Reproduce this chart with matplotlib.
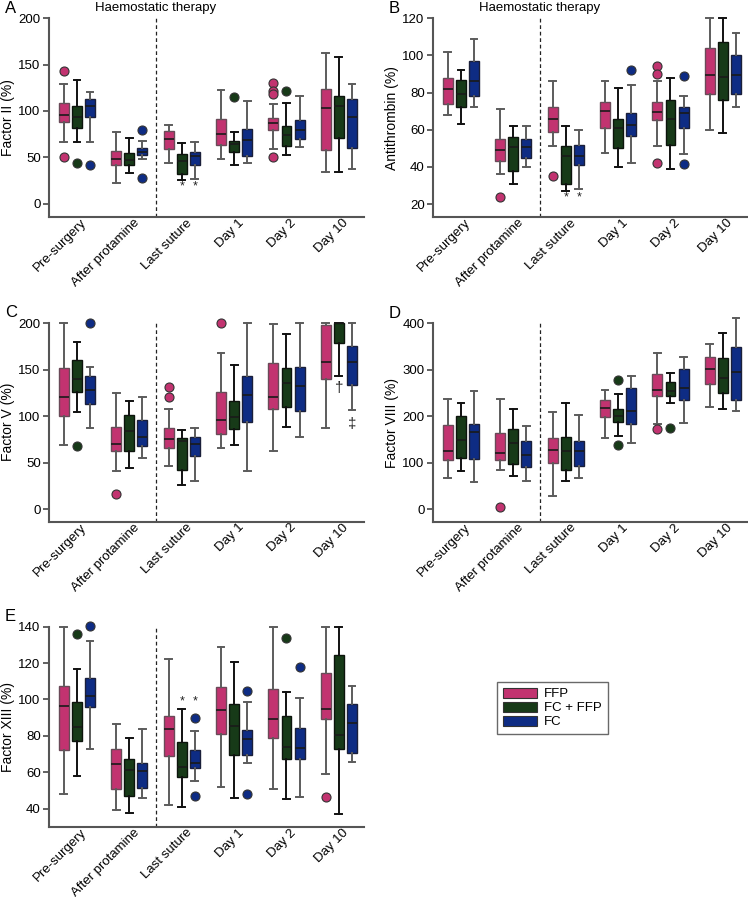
import matplotlib
matplotlib.use('Agg')
import matplotlib.pyplot as plt
from matplotlib.patches import Patch
from matplotlib.transforms import ScaledTranslation

plt.rcParams['font.family'] = ['Liberation Sans', 'DejaVu Sans']

timepoints = ['Pre-surgery', 'After protamine', 'Last suture', 'Day 1', 'Day 2', 'Day 10']
groups = ['FFP', 'FC + FFP', 'FC']
colors = ['#C23370', '#173A18', '#0E2C84']

# each row: [low whisker, Q1, median, Q3, high whisker] per timepoint
# ---- A: Factor II (%)
A_FFP = [[66, 88, 96, 109, 129], [22, 42, 48, 57, 77], [44, 59, 70, 78, 85],
         [48, 63, 75, 91, 123], [59, 79, 87, 92, 107], [34, 58, 103, 124, 163]]
A_FFP_out = [[143, 50], [], [], [], [130, 122, 118, 50], []]
A_FCFFP = [[66, 82, 94, 105, 133], [33, 42, 47, 55, 71], [26, 32, 46, 54, 65],
           [42, 56, 64, 68, 77], [53, 62, 74, 84, 109], [34, 71, 105, 116, 158]]
A_FCFFP_out = [[44], [], [], [115], [122], []]
A_FC = [[67, 93, 105, 113, 120], [48, 52, 56, 60, 68], [27, 42, 51, 56, 67],
        [44, 51, 69, 81, 111], [61, 70, 79, 90, 116], [37, 60, 93, 113, 129]]
A_FC_out = [[42], [79, 28], [], [], [], []]

# ---- B: Antithrombin (%)
B_FFP = [[68, 74, 82, 88, 102], [36, 43, 49, 55, 71], [51, 59, 66, 72, 86],
         [47.5, 61, 70, 75, 86], [51, 65, 69.6, 75, 86], [60, 79, 89.5, 104, 120]]
B_FFP_out = [[], [24], [35], [], [94.5, 90, 42], []]
B_FCFFP = [[63, 72, 79, 87, 92], [31, 38, 50.5, 56, 62], [27, 31, 46, 51, 62],
           [40, 50, 61, 66, 82.5], [39, 52, 66, 76, 88], [58, 76, 88.5, 107, 120]]
B_FCFFP_out = [[], [], [], [], [], []]
B_FC = [[72, 78, 86, 97, 109], [40, 45, 50.5, 55, 62], [28, 41, 46, 52, 60],
        [42, 56.5, 62.5, 69, 84], [47, 61, 69, 72, 78], [72, 79, 89.5, 100.5, 112]]
B_FC_out = [[], [], [], [92], [89, 41.5], []]

# ---- C: Factor V (%)
C_FFP = [[69, 100, 120, 152, 200], [41, 62, 70, 88, 125], [46, 66, 75, 87, 108],
         [66, 81, 96, 126, 168], [62, 108, 120, 157, 199], [87, 140, 158, 198, 200]]
C_FFP_out = [[], [16], [131, 120], [200], [], []]
C_FCFFP = [[104, 126, 140, 160, 180], [44, 62, 84, 101, 116], [26, 42, 73, 76, 85],
           [69, 86, 99, 116, 155], [88, 110, 136, 152, 188], [143, 178, 200, 200, 200]]
C_FCFFP_out = [[68], [], [], [], [], []]
C_FC = [[87, 113, 128, 143, 153], [55, 68, 78, 96, 120], [30, 57, 70, 78, 87],
        [41, 94, 123, 143, 200], [77, 105, 132, 153, 200], [107, 133, 158, 175, 200]]
C_FC_out = [[200], [], [], [], [], []]

# ---- D: Factor VIII (%)
D_FFP = [[68, 105, 125, 181, 238], [85, 106, 121, 163, 238], [29, 99, 128, 153, 209],
         [153, 198, 217, 234, 257], [184, 244, 257, 291, 336], [220, 270, 302, 328, 356]]
D_FFP_out = [[], [4], [], [], [173], []]
D_FCFFP = [[82, 110, 148, 201, 229], [71, 97, 142, 173, 216], [61, 84, 125, 156, 229],
           [158, 188, 201, 216, 247], [228, 243, 254, 274, 294], [216, 250, 283, 326, 380]]
D_FCFFP_out = [[], [], [], [277, 139], [174], []]
D_FC = [[59, 108, 167, 183, 254], [60, 91, 117, 146, 180], [67, 93, 125, 146, 203],
        [142, 184, 211, 260, 287], [186, 234, 261, 301, 328], [211, 234, 295, 348, 411]]
D_FC_out = [[], [], [], [], [], []]

# ---- E: Factor XIII (%)
E_FFP = [[48, 72, 96.5, 107.5, 140], [39, 51, 64.5, 73, 86.5], [42, 69, 84, 91, 122.5],
         [52, 81, 94, 107, 129], [51, 79, 89, 106, 140], [59, 89, 94.5, 114.5, 140]]
E_FFP_out = [[], [], [], [], [], [46.5]]
E_FCFFP = [[58, 77, 85, 98.5, 117], [37.5, 47, 61, 67, 79], [41, 57.5, 63, 76.5, 94.5],
           [46, 69.5, 85.5, 97.5, 120.5], [45.5, 67, 74, 91, 104], [37, 72.5, 80.5, 124.5, 140]]
E_FCFFP_out = [[136], [], [], [], [134], []]
E_FC = [[73, 96, 102, 112, 132], [46, 51.5, 60.5, 65, 83.5], [55, 62.5, 65, 72, 82.5],
        [65, 69.5, 78, 83, 98.5], [46.5, 67.5, 73.5, 84.5, 101], [65.5, 70.5, 87, 97.5, 107.5]]
E_FC_out = [[140.5], [], [90, 47], [104.5, 48], [118], []]

# significance marks: (timepoint index, group index, y value, symbol)
A_marks = [(2, 1, 19, '*'), (2, 2, 19, '*')]
B_marks = [(2, 1, 23.5, '*'), (2, 2, 23.5, '*')]
C_marks = [(5, 1, 130, '\u2020'), (5, 2, 92, '\u2021')]
D_marks = []
E_marks = [(2, 1, 99, '*'), (2, 2, 99, '*')]

W, H = 748, 902
fig = plt.figure(figsize=(W / 100, H / 100), dpi=100)

offsets = [-0.25, 0.0, 0.25]
whisk_cols = ['#5c5c5c', '#111111', '#5c5c5c']
edge_cols = ['#6a4a58', '#0c140c', '#1a1f3a']
spine_col = '#555555'


def ax_rect(x0, ytop, ybot, width=315):
    return [x0 / W, 1 - ybot / H, width / W, (ybot - ytop) / H]


def draw(rect, data, outs, ylim, yticks, ylabel, letter, marks, title):
    ax = fig.add_axes(rect)
    for g in range(3):
        stats = []
        for t in range(6):
            lo, q1, med, q3, hi = data[g][t]
            stats.append(dict(whislo=lo, q1=q1, med=med, q3=q3, whishi=hi,
                              fliers=outs[g][t]))
        pos = [t + offsets[g] for t in range(6)]
        arts = ax.bxp(stats, positions=pos, widths=0.19, capwidths=0.13,
                      patch_artist=True, manage_ticks=False,
                      boxprops=dict(facecolor=colors[g], edgecolor=edge_cols[g], linewidth=1.0),
                      medianprops=dict(color='#1a1a1a', linewidth=1.2),
                      whiskerprops=dict(color=whisk_cols[g], linewidth=1.4),
                      capprops=dict(color=whisk_cols[g], linewidth=1.4),
                      flierprops=dict(marker='o', markerfacecolor=colors[g],
                                      markeredgecolor='#333333', markersize=6.5,
                                      markeredgewidth=0.8))
        for k, lst in arts.items():
            for a in lst:
                a.set_clip_on(False)
    for (t, g, y, s) in marks:
        ax.text(t + offsets[g], y, s, ha='center', va='center', fontsize=9 if s == '*' else 11,
                color='#222222')
    ax.set_xlim(-0.534, 5.48)
    ax.set_ylim(*ylim)
    ax.set_yticks(yticks)
    ax.set_xticks(range(6))
    ax.tick_params(axis='x', length=0, pad=3)
    ax.tick_params(axis='y', direction='out', length=4, width=1.3, color=spine_col,
                   labelsize=9.5, pad=2)
    ax.set_xticklabels(timepoints, rotation=45, ha='right', va='center',
                       rotation_mode='anchor', fontsize=9.5)
    shift = ScaledTranslation(8 / 100, 0, fig.dpi_scale_trans)
    for lab in ax.get_xticklabels():
        lab.set_transform(lab.get_transform() + shift)
    for s in ['top', 'right']:
        ax.spines[s].set_visible(False)
    for s in ['left', 'bottom']:
        ax.spines[s].set_color(spine_col)
        ax.spines[s].set_linewidth(1.5)
    ax.axvline(1.5, color='#222222', linestyle=(0, (3, 2.2)), linewidth=0.9)
    ax.set_ylabel(ylabel, fontsize=10)
    ax.yaxis.set_label_coords(-0.108, 0.5)
    fig.text((rect[0] * W - 44) / W, rect[1] + rect[3] + 10 / H, letter, fontsize=12,
             ha='left', va='center')
    if title:
        xd = ax.transData.transform((1.5, 0))[0]
        fig.text(xd / W, rect[1] + rect[3] + 10 / H, title, fontsize=9.5, ha='center', va='center')
    return ax


draw(ax_rect(49, 18.3, 217), [A_FFP, A_FCFFP, A_FC], [A_FFP_out, A_FCFFP_out, A_FC_out],
     (-14.4, 200), [0, 50, 100, 150, 200], 'Factor II (%)', 'A', A_marks, 'Haemostatic therapy')
draw(ax_rect(433, 18.3, 217), [B_FFP, B_FCFFP, B_FC], [B_FFP_out, B_FCFFP_out, B_FC_out],
     (13, 120), [20, 40, 60, 80, 100, 120], 'Antithrombin (%)', 'B', B_marks, 'Haemostatic therapy')
draw(ax_rect(49, 323, 521.5), [C_FFP, C_FCFFP, C_FC], [C_FFP_out, C_FCFFP_out, C_FC_out],
     (-13.3, 200), [0, 50, 100, 150, 200], 'Factor V (%)', 'C', C_marks, None)
draw(ax_rect(433, 323.3, 521.7), [D_FFP, D_FCFFP, D_FC], [D_FFP_out, D_FCFFP_out, D_FC_out],
     (-27, 400), [0, 100, 200, 300, 400], 'Factor VIII (%)', 'D', D_marks, None)
draw(ax_rect(49, 626.7, 826.7), [E_FFP, E_FCFFP, E_FC], [E_FFP_out, E_FCFFP_out, E_FC_out],
     (30, 140), [40, 60, 80, 100, 120, 140], 'Factor XIII (%)', 'E', E_marks, None)

handles = [Patch(facecolor=c, edgecolor='#333333', linewidth=0.8) for c in colors]
fig.legend(handles, groups, loc='upper left', bbox_to_anchor=(497 / W, 1 - 682 / H),
           frameon=True, fancybox=False, edgecolor='#444444', fontsize=9.5,
           handlelength=2.6, handleheight=0.75, labelspacing=0.12, borderpad=0.45,
           handletextpad=0.5, borderaxespad=0)

fig.savefig('out.png', dpi=100)
